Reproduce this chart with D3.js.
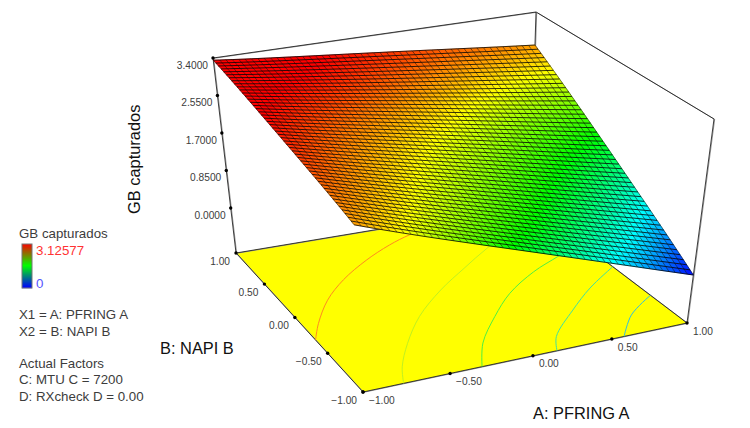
<!DOCTYPE html>
<html>
<head>
<meta charset="utf-8">
<script src="https://cdnjs.cloudflare.com/ajax/libs/d3/7.8.5/d3.min.js"></script>
<style>
  html, body { margin: 0; padding: 0; background: #fff; }
  svg { display: block; }
  text { font-family: "Liberation Sans", Arial, sans-serif; fill: #3c3c3c; }
  .tick-label { font-size: 10.2px; }
  .legend { font-size: 13.3px; }
  .title { font-size: 16.4px; fill: #111; }
</style>
</head>
<body>
<div id="chart"></div>
<script>
// Values.
var aTicks = [-1, -0.5, 0, 0.5, 1];
var bTicks = [-1, -0.5, 0, 0.5, 1];
var zTicks = [0, 0.85, 1.7, 2.55, 3.4];

// Height of the surface at each aTicks position, one array per bTicks row.
var zAtBm100 = [2.25, 1.69, 1.14, 0.58, 0.02];
var zAtBm050 = [2.53, 2.06, 1.60, 1.14, 0.68];
var zAtB000 = [2.80, 2.43, 2.07, 1.70, 1.33];
var zAtB050 = [3.08, 2.80, 2.53, 2.26, 1.99];
var zAtB100 = [3.35, 3.17, 3.00, 2.82, 2.64];
var zRows = [zAtBm100, zAtBm050, zAtB000, zAtB050, zAtB100];

// Value the surface colour stands for at the same positions, read from its hue.
var hueAtBm100 = [2.65, 2.05, 1.40, 0.75, 0.02];
var hueAtBm050 = [2.85, 2.40, 1.90, 1.35, 0.68];
var hueAtB000 = [3.05, 2.65, 2.25, 1.80, 1.33];
var hueAtB050 = [3.20, 2.95, 2.65, 2.30, 1.99];
var hueAtB100 = [3.40, 3.20, 3.00, 2.82, 2.64];
var hueRows = [hueAtBm100, hueAtBm050, hueAtB000, hueAtB050, hueAtB100];

// Contour lines on the floor, as [A, B] points.
var contour250 = [[-1, -0.32], [-0.91, -0.13], [-0.75, 0.14], [-0.56, 0.37], [-0.33, 0.58], [-0.11, 0.74], [0.07, 0.84], [0.3, 0.93]];
var contour200 = [[-0.77, -1], [-0.7, -0.82], [-0.56, -0.57], [-0.36, -0.28], [-0.1, 0], [0.16, 0.23], [0.42, 0.45], [0.7, 0.65]];
var contour150 = [[-0.31, -1], [-0.18, -0.74], [0.03, -0.46], [0.25, -0.21], [0.52, 0.01], [0.77, 0.16], [1, 0.3]];
var contour100 = [[0.15, -1], [0.23, -0.84], [0.48, -0.57], [0.72, -0.34], [1, -0.12]];
var contour050 = [[0.58, -1], [0.76, -0.77], [1, -0.58]];
var contourLines = [contour050, contour100, contour150, contour200, contour250];
var contourColors = ["#30c0e0", "#40e0a0", "#50f040", "#c0f020", "#ff8a20"];

var legendMax = 3.12577;
var colorStops = [0, 0.78, 1.56, 2.34, legendMax];
var colorNames = ["#0000ff", "#00ffff", "#00ff00", "#ffff00", "#ff0000"];
var legendLines = [
  { text: "X1 = A: PFRING A", y: 319 },
  { text: "X2 = B: NAPI B", y: 336 },
  { text: "Actual Factors", y: 368 },
  { text: "C: MTU C = 7200", y: 384 },
  { text: "D: RXcheck D = 0.00", y: 401 }
];

// Box corners on screen: front, right, back, left.
var floorCorners = [[363, 392], [687, 323], [530, 204], [236, 253]];
var topCorners = [[351, 166], [714, 119], [536, 12], [213, 58]];

var meshCells = 50;

var width = 750;
var height = 428;

var uScale = d3.scaleLinear().domain([-1, 1]).range([0, 1]);
var vScale = d3.scaleLinear().domain([-1, 1]).range([0, 1]);
var tScale = d3.scaleLinear().domain([-1.02, 3.4]).range([0, 1]);
var colorScale = d3.scaleLinear()
  .domain(colorStops)
  .range(colorNames)
  .clamp(true);

// Unit square to screen quad.
var makeHomography = function(q) {
  var dx1 = q[1][0] - q[2][0], dx2 = q[3][0] - q[2][0];
  var dy1 = q[1][1] - q[2][1], dy2 = q[3][1] - q[2][1];
  var sx = q[0][0] - q[1][0] + q[2][0] - q[3][0];
  var sy = q[0][1] - q[1][1] + q[2][1] - q[3][1];
  var det = dx1 * dy2 - dx2 * dy1;
  var g = (sx * dy2 - dx2 * sy) / det;
  var h = (dx1 * sy - sx * dy1) / det;
  return function(u, v) {
    var w = 1 + g * u + h * v;
    return [
      ((q[1][0] - q[0][0] + g * q[1][0]) * u + (q[3][0] - q[0][0] + h * q[3][0]) * v + q[0][0]) / w,
      ((q[1][1] - q[0][1] + g * q[1][1]) * u + (q[3][1] - q[0][1] + h * q[3][1]) * v + q[0][1]) / w
    ];
  };
};

var floorAt = makeHomography(floorCorners);
var topAt = makeHomography(topCorners);

var project = function(a, b, z) {
  var u = uScale(a), v = vScale(b), t = tScale(z);
  var p0 = floorAt(u, v), p1 = topAt(u, v);
  return [p0[0] + (p1[0] - p0[0]) * t, p0[1] + (p1[1] - p0[1]) * t];
};

// Smooth curve through a read table, only to draw the mesh.
var weights = function(x, nodes) {
  return nodes.map(function(n, i) {
    var w = 1;
    nodes.forEach(function(m, j) {
      if (j != i) w *= (x - m) / (n - m);
    });
    return w;
  });
};

var tableAt = function(rows, a, b) {
  var wa = weights(a, aTicks), wb = weights(b, bTicks);
  var sum = 0;
  rows.forEach(function(row, j) {
    row.forEach(function(z, i) {
      sum += z * wa[i] * wb[j];
    });
  });
  return sum;
};

var svg = d3.select("#chart").append("svg")
  .attr("width", width)
  .attr("height", height);

var line = d3.line();

// Black edge with the grey shadow the original has next to it.
var edge = function(parent, p0, p1) {
  parent.append("path")
    .attr("d", line([[p0[0] + 0.7, p0[1] + 0.3], [p1[0] + 0.7, p1[1] + 0.3]]))
    .attr("stroke", "#999")
    .attr("stroke-width", 1)
    .attr("fill", "none");
  parent.append("path")
    .attr("d", line([p0, p1]))
    .attr("stroke", "#111")
    .attr("stroke-width", 0.8)
    .attr("fill", "none");
};

// Box behind the surface.
var box = svg.append("g");
edge(box, topCorners[3], topCorners[2]);
edge(box, topCorners[2], topCorners[1]);
edge(box, topCorners[2], floorCorners[2]);
edge(box, topCorners[1], floorCorners[1]);
edge(box, topCorners[3], floorCorners[3]);

// Floor.
var floorGroup = svg.append("g");
floorGroup.append("path")
  .attr("d", line(floorCorners) + "Z")
  .attr("fill", "#ffff00");
edge(floorGroup, floorCorners[3], floorCorners[0]);
edge(floorGroup, floorCorners[0], floorCorners[1]);
edge(floorGroup, floorCorners[1], floorCorners[2]);
edge(floorGroup, floorCorners[2], floorCorners[3]);

// Contours on the floor.
var contourPath = d3.line()
  .x(function(d) { return floorAt(uScale(d[0]), vScale(d[1]))[0]; })
  .y(function(d) { return floorAt(uScale(d[0]), vScale(d[1]))[1]; })
  .curve(d3.curveCatmullRom);

contourLines.forEach(function(points, i) {
  floorGroup.append("path")
    .attr("d", contourPath(points))
    .attr("fill", "none")
    .attr("stroke", contourColors[i])
    .attr("stroke-width", 1);
});

// Surface fill, then the mesh lines on top of it.
var fills = svg.append("g");
var step = 2 / meshCells;
d3.range(meshCells - 1, -1, -1).forEach(function(j) {
  d3.range(meshCells - 1, -1, -1).forEach(function(i) {
    var a0 = -1 + i * step, a1 = a0 + step;
    var b0 = -1 + j * step, b1 = b0 + step;
    var fill = colorScale(tableAt(hueRows, a0 + step / 2, b0 + step / 2));
    fills.append("path")
      .attr("d", line([
        project(a0, b0, tableAt(zRows, a0, b0)),
        project(a1, b0, tableAt(zRows, a1, b0)),
        project(a1, b1, tableAt(zRows, a1, b1)),
        project(a0, b1, tableAt(zRows, a0, b1))
      ]) + "Z")
      .attr("fill", fill)
      .attr("stroke", fill)
      .attr("stroke-width", 0.5);
  });
});

var meshLines = svg.append("g")
  .attr("fill", "none")
  .attr("stroke", "#000");
d3.range(meshCells + 1).forEach(function(j) {
  var b = -1 + j * step;
  meshLines.append("path")
    .attr("d", line(d3.range(meshCells + 1).map(function(i) {
      var a = -1 + i * step;
      return project(a, b, tableAt(zRows, a, b));
    })))
    .attr("stroke-width", 0.8);
});
d3.range(meshCells + 1).forEach(function(i) {
  var a = -1 + i * step;
  meshLines.append("path")
    .attr("d", line(d3.range(meshCells + 1).map(function(j) {
      var b = -1 + j * step;
      return project(a, b, tableAt(zRows, a, b));
    })))
    .attr("stroke-width", 0.5);
});

// Tick dots and labels.
var ticks = svg.append("g");
var addTick = function(p, label, dx, dy, anchor) {
  ticks.append("circle")
    .attr("cx", p[0])
    .attr("cy", p[1])
    .attr("r", 1.7)
    .attr("fill", "#000");
  ticks.append("text")
    .attr("class", "tick-label")
    .attr("x", p[0] + dx)
    .attr("y", p[1] + dy)
    .attr("text-anchor", anchor)
    .text(label);
};

zTicks.forEach(function(z) {
  addTick(project(-1, 1, z), d3.format(".4f")(z), -5, 10.5, "end");
});
bTicks.forEach(function(b) {
  addTick(floorAt(0, vScale(b)), d3.format(".2f")(b), -6, 11.5, "end");
});
aTicks.forEach(function(a) {
  addTick(floorAt(uScale(a), 0), d3.format(".2f")(a), 6, 11.5, "start");
});

// Axis titles.
svg.append("text").attr("class", "title").attr("x", 533).attr("y", 419).text("A: PFRING A");
svg.append("text").attr("class", "title").attr("x", 160).attr("y", 354).text("B: NAPI B");
svg.append("text")
  .attr("class", "title")
  .attr("transform", "translate(140,214) rotate(-90)")
  .text("GB capturados");

// Legend.
var legend = svg.append("g");
legend.append("text").attr("class", "legend").attr("x", 19).attr("y", 238).text("GB capturados");

var barScale = d3.scaleLinear().domain([0, legendMax]).range([288, 244]);
var barColor = d3.scaleLinear()
  .domain([0, legendMax / 2, legendMax])
  .range(["#0000ff", "#00ff00", "#ff0000"]);
d3.range(0, legendMax, legendMax / 44).forEach(function(v) {
  legend.append("rect")
    .attr("x", 22)
    .attr("y", barScale(v) - 1)
    .attr("width", 10)
    .attr("height", 1.2)
    .attr("fill", barColor(v));
});
legend.append("rect")
  .attr("x", 22)
  .attr("y", 244)
  .attr("width", 10)
  .attr("height", 44)
  .attr("fill", "none")
  .attr("stroke", "#777");
legend.append("text").attr("class", "legend").attr("x", 36).attr("y", 255).style("fill", "#ff3333").text("3.12577");
legend.append("text").attr("class", "legend").attr("x", 36).attr("y", 288).style("fill", "#5555ff").text("0");

legend.selectAll(".line")
  .data(legendLines)
  .enter()
  .append("text")
  .attr("class", "legend line")
  .attr("x", 19)
  .attr("y", function(d) { return d.y; })
  .text(function(d) { return d.text; });
</script>
</body>
</html>
